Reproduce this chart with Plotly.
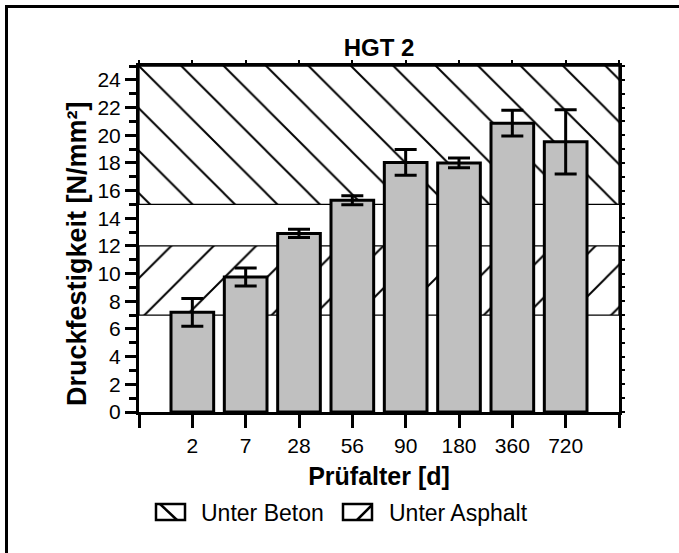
import plotly.graph_objects as go

# Prüfalter (days) and mean compressive strength with standard deviation
ages = ["2", "7", "28", "56", "90", "180", "360", "720"]
strength = [7.2, 9.75, 12.9, 15.3, 18.03, 18.0, 20.87, 19.52]
strength_sd = [1.0, 0.65, 0.3, 0.32, 0.93, 0.36, 0.93, 2.32]

# Required strength ranges for the two cover layers (lower, upper in N/mm²)
zone_names = ["Unter Beton", "Unter Asphalt"]
zone_low = [15, 7]
zone_high = [25, 12]
zone_hatch = ["\\", "/"]

y_max = 25
positions = list(range(1, len(ages) + 1))
x_max = len(ages) + 1

FONT = "Liberation Sans, Arial, sans-serif"
W, H = 679, 553
ML, MR, MT, MB = 139, 60, 66, 141
PW, PH = W - ML - MR, H - MT - MB


def px_x(p):
    """pixel column -> paper x"""
    return (p - ML) / PW


def px_y(p):
    """pixel row -> paper y"""
    return (MT + PH - p) / PH


fig = go.Figure()

# hatched requirement zones spanning the full width of the axis
for name, lo, hi, hatch in zip(zone_names, zone_low, zone_high, zone_hatch):
    fig.add_trace(go.Bar(
        x=[x_max / 2], y=[hi - lo], base=[lo], width=[x_max],
        name=name, showlegend=False,
        marker=dict(
            color="white",
            line=dict(color="black", width=1.3),
            pattern=dict(shape=hatch, size=30, solidity=0.065,
                         fgcolor="black", fgopacity=1, bgcolor="white",
                         fillmode="overlay"),
        ),
        hoverinfo="skip",
    ))

# measured strengths
fig.add_trace(go.Bar(
    x=positions, y=strength, width=0.8,
    marker=dict(color="#c0c0c0", line=dict(color="black", width=3)),
    error_y=dict(type="data", array=strength_sd, visible=True,
                 color="black", thickness=3, width=11),
    showlegend=False,
))

# empty trace carrying the mirrored top/right axes
fig.add_trace(go.Scatter(x=[], y=[], xaxis="x2", yaxis="y2",
                         showlegend=False, hoverinfo="skip"))

tick_pos = list(range(0, x_max + 1))
tick_txt = [""] + ages + [""]

shapes = [
    # outer frame (top and left edges)
    dict(type="line", xref="paper", yref="paper",
         x0=px_x(5), x1=px_x(W + 5), y0=px_y(6.5), y1=px_y(6.5),
         line=dict(color="black", width=3)),
    dict(type="line", xref="paper", yref="paper",
         x0=px_x(6.5), x1=px_x(6.5), y0=px_y(5), y1=px_y(H + 5),
         line=dict(color="black", width=3)),
]
annotations = [
    # y-axis title
    dict(text="<b>Druckfestigkeit [N/mm²]</b>", xref="paper", yref="paper",
         x=px_x(77), y=px_y(254), xanchor="center", yanchor="middle",
         textangle=-90, showarrow=False,
         font=dict(size=27, family=FONT, color="black")),
]

# legend swatches below the axis
legend_items = [
    (zone_names[0], 156, 199, "\\"),
    (zone_names[1], 343, 387, "/"),
]
sw_w, sw_top, sw_bot = 29, 504, 520
for name, x_icon, x_text, hatch in legend_items:
    shapes.append(dict(type="rect", xref="paper", yref="paper",
                       x0=px_x(x_icon), x1=px_x(x_icon + sw_w),
                       y0=px_y(sw_bot), y1=px_y(sw_top),
                       line=dict(color="black", width=2.5), fillcolor="white"))
    if hatch == "\\":
        xa, ya, xb, yb = x_icon + 4, sw_top, x_icon + sw_w - 8, sw_bot
    else:
        xa, ya, xb, yb = x_icon + 14, sw_bot, x_icon + sw_w, sw_top + 1
    shapes.append(dict(type="line", xref="paper", yref="paper",
                       x0=px_x(xa), y0=px_y(ya), x1=px_x(xb), y1=px_y(yb),
                       line=dict(color="black", width=2.5)))
    annotations.append(dict(text=name, xref="paper", yref="paper",
                            x=px_x(x_text), y=px_y(512.5),
                            xanchor="left", yanchor="middle", showarrow=False,
                            font=dict(size=23, family=FONT, color="black")))

fig.update_layout(
    width=W, height=H,
    margin=dict(l=ML, r=MR, t=MT, b=MB),
    paper_bgcolor="white", plot_bgcolor="white",
    barmode="overlay",
    showlegend=False,
    font=dict(family=FONT, color="black"),
    title=dict(text="<b>HGT 2</b>", font=dict(size=24, family=FONT),
               x=0.5, xref="paper", xanchor="center",
               y=1 - 48 / H, yref="container", yanchor="middle"),
    xaxis=dict(
        range=[0, x_max], tickmode="array", tickvals=tick_pos, ticktext=tick_txt,
        ticks="outside", ticklen=13, tickwidth=3, tickcolor="black",
        showline=True, linewidth=3, linecolor="black",
        showgrid=False, zeroline=False,
        tickfont=dict(size=21, family=FONT),
        title=dict(text="<b>Prüfalter [d]</b>", font=dict(size=25, family=FONT), standoff=12),
    ),
    yaxis=dict(
        range=[0, y_max], tick0=0, dtick=2,
        ticks="outside", ticklen=11, tickwidth=2.5, tickcolor="black",
        minor=dict(dtick=1, ticks="outside", ticklen=7, tickwidth=2.5, tickcolor="black"),
        showline=True, linewidth=3, linecolor="black",
        showgrid=False, zeroline=False,
        tickfont=dict(size=21, family=FONT),
    ),
    xaxis2=dict(
        overlaying="x", side="top", range=[0, x_max],
        tickmode="array", tickvals=tick_pos, showticklabels=False,
        ticks="outside", ticklen=3, tickwidth=2, tickcolor="black",
        showline=True, linewidth=3, linecolor="black",
        showgrid=False, zeroline=False,
    ),
    yaxis2=dict(
        overlaying="y", side="right", range=[0, y_max], tick0=0, dtick=1,
        showticklabels=False,
        ticks="outside", ticklen=3, tickwidth=2, tickcolor="black",
        showline=True, linewidth=3, linecolor="black",
        showgrid=False, zeroline=False,
    ),
    shapes=shapes,
    annotations=annotations,
)

fig.write_html("out.html")
